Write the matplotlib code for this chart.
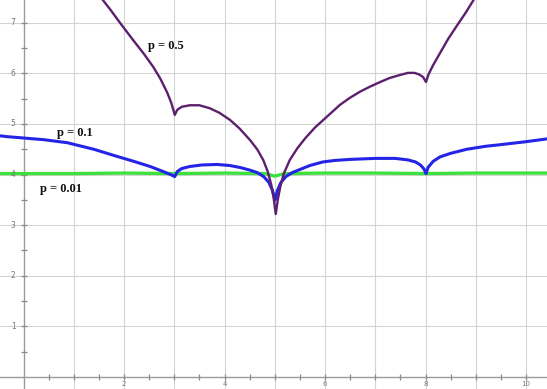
import matplotlib
matplotlib.use("Agg")
import matplotlib.pyplot as plt

# p = 0.5 curve
p05_x = [1.50, 1.72, 1.95, 2.18, 2.40, 2.58, 2.72, 2.86, 2.94, 3.01,
         3.06, 3.15, 3.31, 3.50, 3.71, 3.90, 4.11, 4.30, 4.51, 4.65, 4.77, 4.86, 4.93, 4.98, 5.02,
         5.06, 5.11, 5.18, 5.30, 5.45, 5.60, 5.80, 6.10, 6.30, 6.50, 6.70, 6.90, 7.10, 7.29,
         7.50, 7.65, 7.78, 7.87, 7.95, 8.01,
         8.06, 8.15, 8.30, 8.45, 8.63, 8.80, 9.00]
p05_y = [7.55, 7.27, 6.96, 6.66, 6.38, 6.13, 5.90, 5.62, 5.42, 5.18,
         5.28, 5.34, 5.37, 5.37, 5.31, 5.22, 5.08, 4.91, 4.68, 4.50, 4.29, 4.06, 3.80, 3.52, 3.22,
         3.50, 3.76, 4.02, 4.29, 4.52, 4.71, 4.93, 5.20, 5.38, 5.52, 5.64, 5.74, 5.83, 5.91,
         5.97, 6.01, 6.01, 5.98, 5.93, 5.83,
         5.98, 6.16, 6.42, 6.68, 6.95, 7.20, 7.52]

# p = 0.1 curve
p01_x = [-0.50, -0.33, 0.40, 0.87, 1.40, 1.86, 2.20, 2.52, 2.65, 2.78, 2.93, 3.01,
         3.06, 3.15, 3.31, 3.55, 3.85, 4.10, 4.31, 4.50, 4.65, 4.78, 4.88, 4.95, 5.01,
         5.05, 5.12, 5.22, 5.35, 5.50, 5.70, 5.96, 6.20, 6.50, 7.00, 7.40, 7.65, 7.80, 7.90,
         7.97, 8.01,
         8.05, 8.15, 8.29, 8.50, 8.82, 9.20, 9.48, 10.00, 10.45]
p01_y = [4.77, 4.75, 4.69, 4.63, 4.50, 4.36, 4.26, 4.16, 4.11, 4.06, 4.00, 3.96,
         4.06, 4.12, 4.16, 4.19, 4.20, 4.18, 4.14, 4.09, 4.04, 3.96, 3.85, 3.70, 3.50,
         3.68, 3.84, 3.96, 4.04, 4.10, 4.18, 4.25, 4.28, 4.30, 4.32, 4.32, 4.29, 4.25, 4.19,
         4.11, 4.02,
         4.14, 4.26, 4.35, 4.42, 4.50, 4.56, 4.59, 4.65, 4.71]

# p = 0.01 curve
p001_x = [-0.50, 1.0, 2.0, 3.0, 4.0, 4.8, 5.0, 5.2, 6.0, 7.0, 8.0, 9.0, 10.45]
p001_y = [4.02, 4.02, 4.03, 4.02, 4.03, 4.02, 3.97, 4.02, 4.03, 4.03, 4.02, 4.03, 4.03]

x_tick_labels = [2, 4, 6, 8, 10]
y_tick_labels = [1, 2, 3, 4, 5, 6, 7]

fig = plt.figure(figsize=(5.47, 3.89), dpi=100)
ax = fig.add_axes([0, 0, 1, 1])
ax.set_xlim(-0.468, 10.418)
ax.set_ylim(-0.237, 7.45)

# light grid at each integer
for gx in range(1, 11):
    ax.axvline(gx, color="#d4d4d4", lw=0.8, zorder=0)
for gy in range(1, 8):
    ax.axhline(gy, color="#d4d4d4", lw=0.8, zorder=0)

# axes through the origin
ax.axhline(0, color="#9a9a9a", lw=1.0, zorder=1)
ax.axvline(0, color="#9a9a9a", lw=1.0, zorder=1)
for s in ax.spines.values():
    s.set_visible(False)
ax.set_xticks([])
ax.set_yticks([])

# small tick marks on the axes every half unit
tick_color = "#8a8a8a"
xt = [i * 0.5 for i in range(1, 21)]
yt = [i * 0.5 for i in range(1, 15)]
ax.plot(xt, [0] * len(xt), linestyle="none", marker="|", ms=5, mew=0.9, color=tick_color, zorder=1)
ax.plot([0] * len(yt), yt, linestyle="none", marker="_", ms=5, mew=0.9, color=tick_color, zorder=1)

for v in x_tick_labels:
    ax.text(v, -0.07, str(v), ha="center", va="top", fontsize=5, color="#777777")
for v in y_tick_labels:
    ax.text(-0.16, v, str(v), ha="right", va="center", fontsize=5.5, color="#777777")

ax.plot(p001_x, p001_y, color="#3ee03e", lw=2.4, solid_joinstyle="round", zorder=2)
ax.plot(p01_x, p01_y, color="#2424e6", lw=2.2, solid_joinstyle="round", zorder=3)
ax.plot(p05_x, p05_y, color="#5c1f6e", lw=1.7, solid_joinstyle="round", zorder=4)

label_font = dict(family="Liberation Serif", fontweight="bold", fontsize=9, color="#111111")
ax.text(2.48, 6.54, "p = 0.5", ha="left", va="center", **label_font)
ax.text(0.67, 4.82, "p = 0.1", ha="left", va="center", **label_font)
ax.text(0.33, 3.72, "p = 0.01", ha="left", va="center", **label_font)

fig.savefig("out.png", dpi=100)
